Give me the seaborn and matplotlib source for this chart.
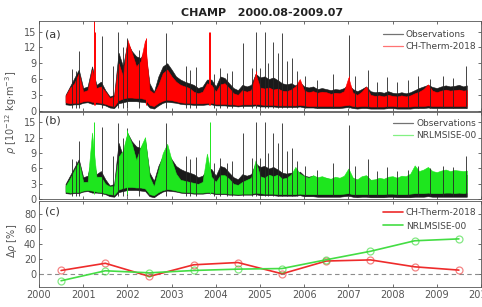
import numpy as np
import pandas as pd
import matplotlib
matplotlib.use('Agg')
import matplotlib.pyplot as plt
from matplotlib.lines import Line2D
import seaborn as sns

# sampling times of the density envelopes (decimal year)
t = [2000.6, 2000.7, 2000.8, 2000.9, 2001.0, 2001.1, 2001.2, 2001.3, 2001.4, 2001.5,
     2001.6, 2001.7, 2001.8, 2001.9, 2002.0, 2002.1, 2002.2, 2002.3, 2002.4, 2002.5,
     2002.6, 2002.7, 2002.8, 2002.9, 2003.0, 2003.1, 2003.2, 2003.3, 2003.4, 2003.5,
     2003.6, 2003.7, 2003.8, 2003.9, 2004.0, 2004.1, 2004.2, 2004.3, 2004.4, 2004.5,
     2004.6, 2004.7, 2004.8, 2004.9, 2005.0, 2005.1, 2005.2, 2005.3, 2005.4, 2005.5,
     2005.6, 2005.7, 2005.8, 2005.9, 2006.0, 2006.1, 2006.2, 2006.3, 2006.4, 2006.5,
     2006.6, 2006.7, 2006.8, 2006.9, 2007.0, 2007.1, 2007.2, 2007.3, 2007.4, 2007.5,
     2007.6, 2007.7, 2007.8, 2007.9, 2008.0, 2008.1, 2008.2, 2008.3, 2008.4, 2008.5,
     2008.6, 2008.7, 2008.8, 2008.9, 2009.0, 2009.1, 2009.2, 2009.3, 2009.4, 2009.5,
     2009.6, 2009.68]

# observations (black band), 1e-12 kg/m3
obs_hi = [3.0, 4.6, 6.2, 7.8, 4.3, 4.6, 8.4, 4.9, 5.5, 3.9,
          2.7, 3.0, 11.0, 8.4, 12.9, 11.3, 10.3, 10.0, 11.6, 5.2,
          3.6, 6.5, 8.4, 9.0, 7.8, 6.5, 5.9, 5.5, 5.2, 4.9,
          4.3, 4.6, 5.9, 5.9, 4.6, 6.5, 6.2, 5.2, 4.3, 3.9,
          4.9, 4.6, 4.9, 7.0, 6.3, 6.5, 6.0, 6.3, 5.8, 5.2,
          5.0, 5.2, 4.8, 5.4, 4.6, 4.4, 4.6, 4.1, 4.3, 4.1,
          3.9, 4.1, 4.0, 4.3, 5.0, 4.1, 3.7, 4.1, 4.6, 3.7,
          3.5, 3.6, 3.4, 3.7, 3.4, 3.3, 3.5, 3.3, 3.5, 3.9,
          4.3, 4.6, 4.9, 4.5, 4.3, 4.6, 4.8, 4.6, 4.7, 4.9,
          4.6, 4.8]
obs_lo = [1.2, 1.1, 1.2, 1.2, 1.5, 1.6, 1.3, 1.3, 1.2, 1.0,
          0.6, 0.5, 1.4, 1.6, 1.8, 1.8, 1.8, 1.7, 1.6, 0.6,
          0.4, 1.0, 1.5, 1.7, 1.6, 1.5, 1.3, 1.2, 1.2, 1.1,
          1.1, 1.1, 1.2, 1.2, 1.0, 1.0, 1.0, 0.9, 0.9, 0.8,
          0.9, 0.9, 0.9, 1.0, 0.8, 0.8, 0.8, 0.8, 0.7, 0.7,
          0.7, 0.7, 0.7, 0.8, 0.6, 0.6, 0.6, 0.5, 0.5, 0.5,
          0.5, 0.5, 0.5, 0.6, 0.7, 0.5, 0.4, 0.5, 0.5, 0.4,
          0.4, 0.4, 0.4, 0.5, 0.5, 0.4, 0.4, 0.4, 0.4, 0.5,
          0.5, 0.5, 0.6, 0.5, 0.5, 0.5, 0.5, 0.5, 0.5, 0.5,
          0.5, 0.5]

# CH-Therm-2018 (red band)
ch_hi = [2.8, 4.3, 5.2, 7.1, 3.6, 3.9, 7.8, 4.3, 4.6, 3.6,
         2.4, 2.7, 9.0, 6.5, 13.5, 11.0, 8.4, 9.4, 13.4, 3.9,
         3.3, 4.9, 7.1, 7.8, 6.5, 5.5, 4.9, 4.6, 4.3, 3.6,
         3.3, 3.6, 5.2, 4.9, 3.6, 5.0, 5.2, 4.3, 3.3, 3.0,
         3.9, 3.6, 3.9, 7.0, 4.4, 4.2, 4.4, 4.0, 4.2, 3.8,
         3.7, 4.0, 4.6, 6.0, 3.8, 3.5, 3.7, 3.4, 3.6, 3.5,
         3.2, 3.4, 3.3, 3.7, 6.3, 3.4, 3.0, 3.6, 4.6, 3.0,
         2.8, 2.9, 2.7, 3.0, 2.8, 2.7, 2.9, 2.7, 2.9, 3.3,
         3.6, 4.1, 5.0, 3.8, 3.5, 3.8, 4.0, 3.8, 3.9, 4.0,
         3.8, 3.9]
ch_lo = [1.6, 1.4, 1.5, 1.5, 1.8, 1.9, 1.7, 1.6, 1.5, 1.3,
         1.0, 0.9, 2.0, 2.3, 2.5, 2.5, 2.4, 2.4, 2.2, 1.1,
         0.9, 1.5, 1.9, 2.1, 2.0, 1.8, 1.6, 1.5, 1.5, 1.4,
         1.4, 1.4, 1.5, 1.5, 1.3, 1.3, 1.3, 1.2, 1.2, 1.1,
         1.2, 1.2, 1.2, 1.3, 1.2, 1.1, 1.1, 1.1, 1.0, 1.0,
         1.0, 1.0, 1.0, 1.1, 1.0, 0.9, 0.9, 0.9, 0.9, 0.9,
         0.9, 0.9, 0.9, 1.0, 1.1, 0.9, 0.8, 0.9, 0.9, 0.8,
         0.8, 0.8, 0.8, 0.9, 0.9, 0.8, 0.8, 0.8, 0.8, 0.9,
         0.9, 0.9, 1.0, 0.9, 0.9, 0.9, 0.9, 0.9, 0.9, 0.9,
         0.9, 0.9]

# NRLMSISE-00 (green band)
msis_hi = [2.6, 4.0, 5.7, 7.3, 3.4, 3.4, 13.0, 4.4, 4.4, 3.0,
           2.5, 2.6, 8.3, 9.5, 13.0, 10.8, 7.6, 10.2, 12.1, 4.4,
           2.5, 5.7, 9.0, 10.8, 7.6, 5.0, 3.8, 3.6, 3.4, 3.2,
           3.0, 3.4, 8.9, 4.4, 3.4, 4.7, 4.7, 4.0, 3.0, 2.8,
           3.4, 3.8, 4.2, 7.6, 4.5, 4.2, 4.8, 4.5, 4.8, 4.0,
           4.2, 4.8, 6.3, 5.0, 4.5, 4.2, 4.7, 4.3, 4.5, 4.2,
           4.0, 4.4, 4.2, 4.6, 6.0, 4.2, 3.9, 4.5, 4.7, 3.8,
           3.9, 4.2, 4.0, 4.4, 4.5, 4.2, 4.6, 4.5, 5.0, 6.6,
           5.5, 5.8, 6.3, 5.5, 5.3, 5.6, 5.8, 5.5, 5.7, 5.6,
           5.5, 5.6]
msis_lo = [1.5, 1.3, 1.4, 1.4, 1.7, 1.8, 1.7, 1.5, 1.4, 1.2,
           1.0, 0.9, 1.9, 2.2, 2.4, 2.4, 2.3, 2.3, 2.1, 1.0,
           0.8, 1.4, 1.8, 2.0, 1.9, 1.7, 1.5, 1.4, 1.4, 1.3,
           1.3, 1.3, 1.4, 1.4, 1.2, 1.2, 1.2, 1.1, 1.1, 1.0,
           1.1, 1.1, 1.1, 1.3, 1.2, 1.1, 1.1, 1.1, 1.0, 1.0,
           1.0, 1.0, 1.0, 1.1, 1.0, 1.0, 1.0, 1.0, 1.0, 1.0,
           1.0, 1.0, 1.0, 1.1, 1.2, 1.0, 1.0, 1.0, 1.0, 1.0,
           1.0, 1.0, 1.0, 1.1, 1.1, 1.0, 1.0, 1.0, 1.1, 1.2,
           1.2, 1.2, 1.3, 1.2, 1.2, 1.2, 1.3, 1.3, 1.2, 1.3,
           1.2, 1.3]

# isolated spikes (storm time peaks)
obs_spike_t = [2000.74, 2000.83, 2000.90, 2001.43, 2001.67, 2001.79, 2001.89, 2002.0,
               2002.26, 2002.87, 2003.32, 2003.42, 2003.55, 2003.95, 2004.1, 2004.25,
               2004.37, 2004.62, 2004.83, 2004.91, 2005.0, 2005.11, 2005.19, 2005.29,
               2005.41, 2005.49, 2005.6, 2005.72, 2005.83, 2006.02, 2006.28, 2006.66,
               2007.02, 2007.15, 2007.45, 2007.64, 2007.87, 2008.09, 2008.35, 2008.58,
               2008.84, 2009.14, 2009.37, 2009.66]
obs_spike_v = [7.9, 7.5, 11.3, 14.1, 8.5, 14.9, 12.0, 13.8,
               11.5, 14.8, 8.4, 7.8, 8.2, 7.0, 8.0, 7.1,
               7.5, 12.9, 8.0, 15.0, 8.0, 15.0, 9.0, 13.0,
               11.0, 14.8, 9.5, 10.0, 7.5, 6.5, 5.8, 7.0,
               14.4, 6.5, 7.8, 5.5, 6.3, 5.5, 5.8, 6.5,
               6.0, 6.5, 6.2, 8.5]
ch_spike_t = [2001.24, 2001.27, 2002.41, 2003.84, 2003.88, 2004.9, 2007.02]
ch_spike_v = [17.5, 15.0, 13.8, 15.0, 15.0, 7.5, 6.6]
msis_spike_t = [2001.25, 2002.0, 2003.86]
msis_spike_v = [15.0, 13.5, 15.0]

# yearly mean relative bias, %
bias_year = [2000.5, 2001.5, 2002.5, 2003.5, 2004.5, 2005.5, 2006.5, 2007.5, 2008.5, 2009.5]
bias_ch = [4.4, 14.0, -3.5, 12.0, 15.0, 0.0, 17.0, 18.5, 9.3, 4.9]
bias_msis = [-9.3, 4.0, 1.3, 4.4, 6.2, 7.0, 18.7, 30.0, 44.0, 46.5]

RED = '#ff0000'
GREEN = '#1ee61e'
GRAY = '#555555'


def style_axis(ax, show_xlabels):
    ax.set_xlim(2000, 2010)
    ax.set_xticks(range(2000, 2011))
    if not show_xlabels:
        ax.set_xticklabels([])
    ax.tick_params(direction='in', length=2.5, width=0.6, colors=GRAY,
                   top=True, right=True, labelsize=7, pad=2)
    for s in ax.spines.values():
        s.set_visible(True)
        s.set_linewidth(0.6)
        s.set_color(GRAY)


def density_panel(ax, model_hi, model_lo, spike_t, spike_v, color, name, letter, leg_y):
    ax.fill_between(t, obs_lo, obs_hi, color='k', lw=0.4)
    ax.vlines(obs_spike_t, 0.6, obs_spike_v, color='0.15', lw=0.6)
    ax.fill_between(t, model_lo, model_hi, color=color, lw=0.4)
    ax.vlines(spike_t, 1.0, spike_v, color=color, lw=0.7)
    ax.set_ylim(0, 17)
    ax.set_yticks([0, 3, 6, 9, 12, 15])
    ax.text(0.014, leg_y[0], letter, transform=ax.transAxes, fontsize=8,
            color='#333333', va='center')
    handles = [Line2D([], [], color='0.45', lw=0.9),
               Line2D([], [], color=color, lw=0.9, alpha=0.55)]
    ax.legend(handles, ['Observations', name], loc='upper right',
              bbox_to_anchor=(1.0, leg_y[1]), frameon=False, fontsize=6.5,
              handlelength=2.2, handletextpad=0.35, labelspacing=0.35,
              borderaxespad=0.2, borderpad=0.3, labelcolor='#444444')


def main():
    sns.set_theme(style='ticks')
    plt.rcParams['font.family'] = ['DejaVu Sans']
    plt.rcParams['mathtext.fontset'] = 'dejavusans'

    fig = plt.figure(figsize=(4.82, 3.07), dpi=100)
    ax_a = fig.add_axes([0.0809, 0.6394, 0.917, 0.2922])
    ax_b = fig.add_axes([0.0809, 0.3508, 0.917, 0.2844])
    ax_c = fig.add_axes([0.0809, 0.0642, 0.917, 0.2811])

    density_panel(ax_a, ch_hi, ch_lo, ch_spike_t, ch_spike_v, RED,
                  'CH-Therm-2018', '(a)', (0.855, 0.95))
    density_panel(ax_b, msis_hi, msis_lo, msis_spike_t, msis_spike_v, GREEN,
                  'NRLMSISE-00', '(b)', (0.897, 0.97))
    style_axis(ax_a, False)
    style_axis(ax_b, False)

    ax_c.axhline(0, color='0.55', lw=0.8, ls=(0, (4, 3)))
    sns.lineplot(x=bias_year, y=bias_ch, ax=ax_c, color='#ee2b2b', lw=1.2,
                 marker='o', markersize=5, mfc='none', mec=(0.93, 0.2, 0.2, 0.6), mew=0.9)
    sns.lineplot(x=bias_year, y=bias_msis, ax=ax_c, color='#44dd44', lw=1.2,
                 marker='o', markersize=5, mfc='none', mec=(0.2, 0.85, 0.2, 0.6), mew=0.9)
    ax_c.set_ylim(-18, 97)
    ax_c.set_yticks([0, 20, 40, 60, 80])
    ax_c.set_xlabel('')
    ax_c.set_ylabel('')
    style_axis(ax_c, True)
    ax_c.text(0.014, 0.884, '(c)', transform=ax_c.transAxes, fontsize=8,
              color='#333333', va='center')
    handles = [Line2D([], [], color='#ee2b2b', lw=1.2),
               Line2D([], [], color='#44dd44', lw=1.2)]
    ax_c.legend(handles, ['CH-Therm-2018', 'NRLMSISE-00'], loc='upper right',
                bbox_to_anchor=(1.0, 0.97), frameon=False, fontsize=6.5,
                handlelength=2.2, handletextpad=0.35, labelspacing=0.5,
                borderaxespad=0.2, borderpad=0.3, labelcolor='#444444')

    fig.text(0.543, 0.959, 'CHAMP   2000.08-2009.07', ha='center', va='center',
             fontsize=8, fontweight='bold', color='#222222')
    fig.text(0.024, 0.635, r'$\rho$ [10$^{-12}$ kg$\cdot$m$^{-3}$]', rotation=90,
             ha='center', va='center', fontsize=7, color=GRAY)
    fig.text(0.024, 0.215, r'$\Delta\rho$ [%]', rotation=90,
             ha='center', va='center', fontsize=7, color=GRAY)

    fig.savefig('out.png', dpi=100)


if __name__ == "__main__":
    main()
